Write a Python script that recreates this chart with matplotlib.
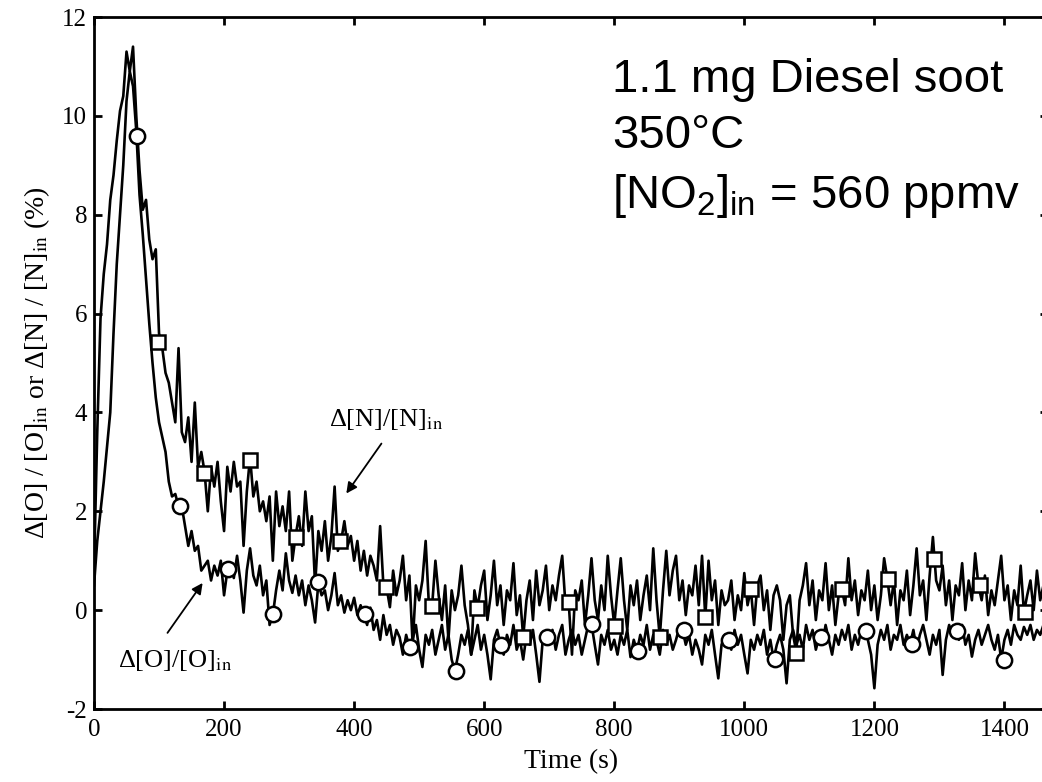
import numpy as np
import matplotlib
matplotlib.use("Agg")
import matplotlib.pyplot as plt

plt.rcParams['font.family'] = ['Liberation Serif', 'DejaVu Serif']
plt.rcParams['mathtext.fontset'] = 'custom'
plt.rcParams['mathtext.rm'] = 'Liberation Sans'
plt.rcParams['mathtext.it'] = 'Liberation Sans:italic'
plt.rcParams['mathtext.bf'] = 'Liberation Sans:bold'
plt.rcParams['axes.unicode_minus'] = False

# ---------------- data ----------------
time_step_s = 5  # sampling interval of the traces (s)

# Delta[N]/[N]_in (%) sampled every 5 s from t = 0 s
n_signal = [
    0.8, 3.6, 5.9, 6.8, 7.4, 8.3, 8.8, 9.5, 10.1, 10.4, 11.3, 10.9, 11.4, 10.0, 8.9, 8.1, 8.3, 7.5, 7.1, 7.3,
    5.6, 5.3, 4.8, 4.6, 4.2, 3.8, 5.3, 3.6, 3.4, 3.9, 3.0, 4.2, 2.9, 3.2, 2.8, 2.0, 2.9, 2.5, 3.0, 2.2,
    1.6, 2.9, 2.4, 3.0, 2.5, 2.6, 1.3, 2.4, 3.1, 2.3, 2.6, 2.0, 2.2, 1.8, 2.3, 1.0, 2.4, 1.7, 2.1, 1.6,
    2.4, 1.0, 1.5, 1.9, 1.3, 2.4, 1.6, 1.9, 0.5, 1.6, 1.2, 1.8, 1.0, 1.5, 2.5, 1.2, 1.4, 1.8, 1.3, 1.5,
    1.0, 1.4, 0.8, 1.2, 0.7, 1.1, 0.9, 0.6, 1.7, 0.5, 0.45, 0.06, 0.8, 0.3, 0.6, 1.1, 0.2, 0.7, -0.7, 0.5,
    0.2, 0.6, 1.4, 0.1, 0.1, 1.0, 0.3, -0.2, 0.5, -0.6, 0.4, 0.0, 0.3, 0.9, 0.1, -0.3, -0.9, 0.4, 0.05, 0.5,
    0.8, -0.2, 0.3, 1.0, 0.1, 0.5, -0.3, 0.4, 0.2, 0.95, -0.1, 0.3, -0.55, 0.2, 0.6, -0.2, 0.8, 0.1, 0.4, 0.9,
    0.0, 0.5, 0.2, 0.7, 1.1, 0.1, 0.15, -0.9, 0.4, 0.2, 0.6, -0.3, 0.3, 1.05, 0.2, -0.2, 0.5, 0.0, 1.1, 0.3,
    -0.3, 0.4, 1.05, 0.2, -0.4, 0.5, 0.1, 0.6, -0.2, 0.3, 0.7, 0.0, 1.25, 0.2, -0.55, 0.4, 1.2, 0.3, 0.8, 1.1,
    0.2, 0.6, -0.1, 0.5, 0.3, 0.9, 0.1, 1.1, -0.15, 1.0, 0.2, 0.6, -0.3, 0.4, 0.1, 0.2, 0.6, -0.2, 0.3, 0.0,
    0.75, 0.1, 0.42, -0.3, 0.5, 0.7, 0.0, 0.4, -0.4, 0.3, 0.5, 0.2, -0.6, 0.1, 0.3, -0.5, -0.85, 0.2, 0.5, 0.95,
    0.1, 0.6, -0.2, 0.4, 0.2, 0.95, 0.0, 0.5, -0.3, 0.3, 0.42, 0.1, 1.05, 0.2, 0.6, -0.1, 0.4, 0.2, 0.8, 0.0,
    0.5, -0.2, 0.3, 1.05, 0.63, 0.1, 0.6, -0.3, 0.4, 0.2, 0.8, -0.1, 0.5, 1.25, 0.3, 0.6, -0.2, 0.7, 1.48, 0.6,
    0.4, 0.9, 0.1, 0.6, -0.2, 0.5, 0.3, 0.95, 0.0, 0.6, 0.2, 1.15, 0.5, 0.2, 0.7, -0.1, 0.4, 0.1, 0.6, 1.1,
    0.2, 0.5, -0.2, 0.4, 0.1, 0.9, -0.04, 0.3, 0.6, 0.0, 0.8, 0.2, 0.5, 0.3,
]

# Delta[O]/[O]_in (%) sampled every 5 s from t = 0 s
o_signal = [
    0.5, 1.4, 2.0, 2.6, 3.3, 4.0, 5.6, 7.0, 8.0, 9.0, 10.3, 10.9, 10.6, 9.7, 8.4, 7.6, 6.7, 5.8, 5.0, 4.3,
    3.8, 3.5, 3.2, 2.6, 2.3, 2.35, 2.1, 2.1, 1.7, 1.3, 1.6, 1.2, 1.3, 0.8, 0.9, 1.0, 0.6, 0.9, 0.7, 1.0,
    0.3, 0.8, 0.9, 0.65, 1.1, 0.6, -0.05, 0.8, 1.25, 0.7, 0.5, 0.9, 0.3, 0.6, -0.3, -0.1, 0.4, 0.8, 0.4, 1.15,
    0.6, 0.35, 0.7, 0.3, 0.6, 0.1, 0.5, 0.2, -0.25, 0.55, 0.3, 0.4, 0.0, 0.3, 0.75, 0.1, 0.3, -0.05, 0.2, 0.0,
    0.25, -0.1, 0.1, -0.1, -0.3, 0.05, -0.4, -0.2, -0.6, -0.1, -0.5, -0.3, -0.7, -0.4, -0.55, -0.9, -0.5, -0.75, -0.6, -0.3,
    -0.8, -1.15, -0.5, -0.7, -0.4, -0.9, -0.6, -0.3, -0.8, -0.5, -1.0, -1.23, -0.9, -0.5, -0.7, -0.4, -0.9, -0.6, -0.3, -0.8,
    -0.5, -0.9, -1.4, -0.6, -0.4, -0.7, -0.9, -0.5, -0.7, -0.3, -0.8, -0.6, -1.0, -0.5, -0.7, -0.4, -0.9, -1.45, -0.6, -0.55,
    -0.7, -0.4, -0.8, -0.5, -0.3, -0.9, -0.6, -0.4, -0.7, -0.5, -0.9, -0.6, -0.3, -0.28, -0.7, -1.1, -0.5, -0.7, -0.4, -0.8,
    -0.6, -0.9, -0.5, -0.7, -0.4, -0.95, -0.6, -0.83, -0.5, -0.7, -0.3, -0.8, -0.5, -0.6, -0.9, -0.4, -0.7, -0.5, -0.8, -0.6,
    -0.35, -0.4, -0.7, -0.5, -0.9, -0.6, -0.8, -1.1, -0.5, -0.7, -0.4, -0.9, -1.38, -0.7, -0.5, -0.61, -0.8, -0.4, -0.7, -0.5,
    -0.9, -1.28, -0.6, -0.8, -0.5, -0.7, -0.4, -0.9, -0.6, -0.99, -0.7, -0.5, -0.8, -1.48, -0.6, -0.4, -0.7, -0.5, -0.8, -0.3,
    -0.6, -0.4, -0.8, -0.55, -0.7, -0.3, -0.6, -0.9, -0.5, -0.7, -0.4, -0.6, -0.3, -0.8, -0.5, -0.7, -0.4, -0.42, -0.6, -0.9,
    -1.58, -0.7, -0.4, -0.6, -0.3, -0.8, -0.5, -0.6, -0.3, -0.7, -0.5, -0.69, -0.4, -0.8, -0.5, -0.3, -0.6, -0.9, -0.5, -0.7,
    -0.4, -1.31, -0.6, -0.3, -0.5, -0.42, -0.6, -0.3, -0.7, -0.5, -0.94, -0.6, -0.4, -0.7, -0.5, -0.3, -0.6, -0.8, -0.5, -1.0,
    -0.6, -0.4, -0.7, -0.3, -0.5, -0.6, -0.34, -0.5, -0.3, -0.6, -0.4, -0.5, -0.3, -0.5,
]

# marker symbols placed on the traces
circle_t = [66, 133, 206, 275, 345, 416, 486, 556, 626, 696, 766, 836, 907, 977, 1047, 1118, 1187, 1258, 1327, 1399]
circle_y = [9.6, 2.1, 0.83, -0.08, 0.56, -0.08, -0.75, -1.23, -0.71, -0.55, -0.28, -0.83, -0.40, -0.61, -0.99, -0.55,
            -0.42, -0.69, -0.42, -1.01]
square_t = [98, 169, 240, 310, 379, 449, 520, 589, 660, 730, 801, 871, 940, 1011, 1080, 1150, 1221, 1291, 1362, 1431]
square_y = [5.43, 2.77, 3.03, 1.47, 1.39, 0.46, 0.08, 0.04, -0.55, 0.16, -0.32, -0.55, -0.14, 0.42, -0.87, 0.42,
            0.63, 1.03, 0.5, -0.04]

x_ticks = [0, 200, 400, 600, 800, 1000, 1200, 1400]
y_ticks = [-2, 0, 2, 4, 6, 8, 10, 12]

x_label = "Time (s)"
y_label = r"Δ[O] / [O]$_{\mathrm{in}}$ or Δ[N] / [N]$_{\mathrm{in}}$ (%)"
n_label = r"Δ[N]/[N]$_{\mathrm{in}}$"
o_label = r"Δ[O]/[O]$_{\mathrm{in}}$"
info_lines = ["1.1 mg Diesel soot", "350°C", r"[NO$_2$]$_{\mathrm{in}}$ = 560 ppmv"]

# ---------------- figure ----------------
W, H = 1042, 782
fig = plt.figure(figsize=(W / 100, H / 100), dpi=100)
ax_left, ax_right, ax_top, ax_bottom = 94, 1048, 17, 709
ax = fig.add_axes([ax_left / W, 1 - ax_bottom / H, (ax_right - ax_left) / W, (ax_bottom - ax_top) / H])

t_n = np.arange(len(n_signal)) * time_step_s
t_o = np.arange(len(o_signal)) * time_step_s

ax.plot(t_n, n_signal, color='black', lw=1.9, zorder=2)
ax.plot(t_o, o_signal, color='black', lw=1.9, zorder=2)
ax.plot(circle_t, circle_y, linestyle='none', marker='o', ms=11, mfc='white', mec='black', mew=1.8, zorder=4)
ax.plot(square_t, square_y, linestyle='none', marker='s', ms=9.5, mfc='white', mec='black', mew=1.8, zorder=4)

ax.set_xlim(0, 1467)
ax.set_ylim(-2, 12)
ax.set_xticks(x_ticks)
ax.set_yticks(y_ticks)
ax.set_xticklabels([str(v) for v in x_ticks])
ax.set_yticklabels([str(v) for v in y_ticks])
ax.tick_params(direction='in', length=6, width=2, top=True, right=True, labelsize=18)
ax.tick_params(axis='x', pad=7)
ax.tick_params(axis='y', pad=5)
for s in ax.spines.values():
    s.set_linewidth(2)

ax.set_xlabel(x_label, fontsize=20, labelpad=6)
ax.set_ylabel(y_label, fontsize=20, labelpad=7, math_fontfamily='stix')

# labels with arrows
ax.text(362, 3.72, n_label, fontsize=19, ha='left', va='baseline', math_fontfamily='stix')
ax.annotate('', xy=(388, 2.36), xytext=(442, 3.37),
            arrowprops=dict(arrowstyle='-|>', color='black', lw=1.3, mutation_scale=16, shrinkA=0, shrinkB=0))
ax.text(37, -1.15, o_label, fontsize=19, ha='left', va='baseline', math_fontfamily='stix')
ax.annotate('', xy=(167, 0.55), xytext=(113, -0.46),
            arrowprops=dict(arrowstyle='-|>', color='black', lw=1.3, mutation_scale=16, shrinkA=0, shrinkB=0))

# info text block
info_y = [10.48, 9.35, 8.13]
for line, yy in zip(info_lines, info_y):
    ax.text(797, yy, line, fontsize=34, family='Liberation Sans', ha='left', va='baseline',
            math_fontfamily='custom')

fig.savefig("out.png", dpi=100)
